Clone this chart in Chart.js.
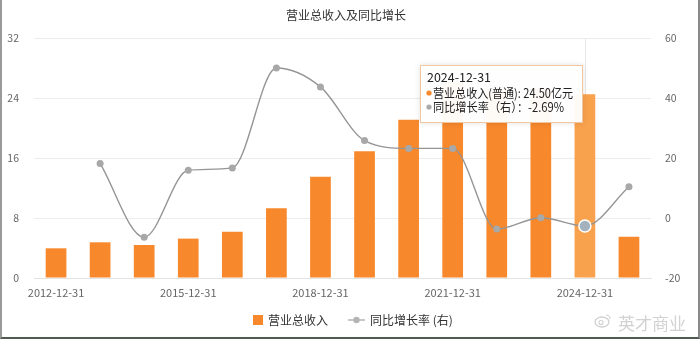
<!DOCTYPE html>
<html>
<head>
<meta charset="utf-8">
<script src="https://cdn.jsdelivr.net/npm/chart.js@4.4.1/dist/chart.umd.min.js"></script>
<style>
  html, body { margin: 0; padding: 0; background: #fff; }
  #wrap { position: relative; width: 700px; height: 339px; }
  #frame { position: absolute; left: 0; top: 0; right: 0; bottom: 0; box-sizing: border-box;
           border-left: 2px solid #9a9a9a; border-right: 2px solid #8a8a8a; border-bottom: 2px solid #4f5a50; pointer-events: none; }
  #wm { position: absolute; left: 618px; top: 310px; font: 17px "Noto Sans CJK SC"; color: #d2d2d2; letter-spacing: 0px; }
  #wmlogo { position: absolute; left: 594px; top: 313px; width: 18px; height: 15px; }
</style>
</head>
<body>
<div id="wrap">
  <canvas id="c" width="700" height="339"></canvas>
  <svg id="wmlogo" viewBox="0 0 18 15"><ellipse cx="8" cy="9" rx="7" ry="5" fill="none" stroke="#d0d0d0" stroke-width="1.3"/><circle cx="7" cy="9.5" r="2" fill="none" stroke="#d0d0d0" stroke-width="1.1"/><path d="M12 2 a4 4 0 0 1 4 4" fill="none" stroke="#d0d0d0" stroke-width="1.2"/></svg>
  <div id="wm">英才商业</div>
  <div id="frame"></div>
</div>
<script>
const categories = ['2012-12-31','2013-12-31','2014-12-31','2015-12-31','2016-12-31','2017-12-31','2018-12-31',
                    '2019-12-31','2020-12-31','2021-12-31','2022-12-31','2023-12-31','2024-12-31','2025-03-31'];
const revenue = [3.96, 4.76, 4.40, 5.25, 6.18, 9.29, 13.50, 16.90, 21.10, 26.10, 25.15, 25.18, 24.50, 5.50];
const growth  = [null, 18.2, -6.4, 15.9, 16.7, 50.0, 43.7, 25.8, 23.2, 23.2, -3.7, 0.1, -2.69, 10.4];
const leftTicks  = [0, 8, 16, 24, 32];
const rightTicks = [-20, 0, 20, 40, 60];
const titleText = '营业总收入及同比增长';
const seriesNames = ['营业总收入', '同比增长率 (右)'];
const hoverIndex = 12;

const FONT = '"Noto Sans CJK SC", "Noto Sans", sans-serif';
const BAR = '#f7882c', BAR_HOVER = '#f9a24d', LINE = '#959595', PT = '#a8a8a8';

const barColors = revenue.map((v, i) => i === hoverIndex ? BAR_HOVER : BAR);
const ptRadius = growth.map((v, i) => i === hoverIndex ? 6 : 3.5);
const ptFill = growth.map((v, i) => i === hoverIndex ? '#a3b2bc' : PT);
const ptBorder = growth.map((v, i) => i === hoverIndex ? '#ffffff' : PT);
const ptBorderW = growth.map((v, i) => i === hoverIndex ? 1.5 : 0);

const decor = {
  id: 'decor',
  beforeDatasetsDraw(chart) {
    const ctx = chart.ctx, ca = chart.chartArea;
    const bar = chart.getDatasetMeta(0).data[hoverIndex];
    ctx.save();
    ctx.strokeStyle = '#e8e8e8';
    ctx.lineWidth = 1;
    ctx.beginPath();
    ctx.moveTo(Math.round(bar.x) + 0.5, ca.top);
    ctx.lineTo(Math.round(bar.x) + 0.5, ca.bottom);
    ctx.stroke();
    ctx.restore();
  },
  afterDraw(chart) {
    const ctx = chart.ctx, ca = chart.chartArea;
    ctx.save();
    // title
    ctx.fillStyle = '#333';
    ctx.font = '12px ' + FONT;
    ctx.textAlign = 'center';
    ctx.textBaseline = 'middle';
    ctx.fillText(titleText, chart.width / 2 - 4, 15);

    // legend
    ctx.font = '12px ' + FONT;
    ctx.textAlign = 'left';
    const cy = 320;
    let x = 253;
    ctx.fillStyle = BAR;
    ctx.fillRect(x, cy - 5, 10, 10);
    ctx.fillStyle = '#333';
    ctx.fillText(seriesNames[0], x + 15, cy);
    x = x + 15 + ctx.measureText(seriesNames[0]).width + 20;
    ctx.strokeStyle = '#b5b5b5';
    ctx.lineWidth = 1.5;
    ctx.beginPath(); ctx.moveTo(x, cy); ctx.lineTo(x + 17, cy); ctx.stroke();
    ctx.fillStyle = '#b5b5b5';
    ctx.beginPath(); ctx.arc(x + 8.5, cy, 3.2, 0, Math.PI * 2); ctx.fill();
    ctx.fillStyle = '#333';
    ctx.fillText(seriesNames[1], x + 22, cy);

    // tooltip
    const bar = chart.getDatasetMeta(0).data[hoverIndex];
    const bw = 163, bh = 58;
    const bx = Math.round(bar.x) - 2 - bw, by = ca.top + 27;
    ctx.shadowColor = 'rgba(0,0,0,0.12)';
    ctx.shadowBlur = 6;
    ctx.fillStyle = 'rgba(255,255,255,0.96)';
    ctx.fillRect(bx, by, bw, bh);
    ctx.shadowBlur = 0;
    ctx.strokeStyle = '#f2c7a0';
    ctx.lineWidth = 1;
    ctx.strokeRect(bx + 0.5, by + 0.5, bw - 1, bh - 1);
    ctx.fillStyle = '#222';
    ctx.font = '12.5px ' + FONT;
    ctx.textBaseline = 'middle';
    ctx.fillText(categories[hoverIndex], bx + 7, by + 12, 64);
    ctx.font = '12.5px ' + FONT;
    ctx.fillStyle = BAR;
    ctx.beginPath(); ctx.arc(bx + 9, by + 28, 2.6, 0, Math.PI * 2); ctx.fill();
    ctx.fillStyle = '#222';
    ctx.fillText('营业总收入(普通): ' + revenue[hoverIndex].toFixed(2) + '亿元', bx + 13, by + 28, 140);
    ctx.fillStyle = '#aaa';
    ctx.beginPath(); ctx.arc(bx + 9, by + 42, 2.6, 0, Math.PI * 2); ctx.fill();
    ctx.fillStyle = '#222';
    ctx.fillText('同比增长率（右）：' + growth[hoverIndex].toFixed(2) + '%', bx + 13, by + 42, 131);
    ctx.restore();
  }
};

new Chart(document.getElementById('c'), {
  data: {
    labels: categories,
    datasets: [
      {
        type: 'line', label: seriesNames[1], data: growth, yAxisID: 'y1',
        borderColor: LINE, borderWidth: 1.4, cubicInterpolationMode: 'monotone',
        pointRadius: ptRadius, pointBackgroundColor: ptFill, pointBorderColor: ptBorder,
        pointBorderWidth: ptBorderW, spanGaps: false, order: 0
      },
      {
        type: 'bar', label: seriesNames[0], data: revenue, yAxisID: 'y',
        backgroundColor: barColors, barPercentage: 0.47, categoryPercentage: 1.0, order: 1
      }
    ]
  },
  options: {
    responsive: false, animation: false, events: [],
    layout: { padding: { top: 38, bottom: 0, left: 0, right: 0 } },
    plugins: { legend: { display: false }, tooltip: { enabled: false }, title: { display: false } },
    scales: {
      x: {
        grid: { display: false, drawTicks: false },
        border: { display: true, color: '#e3e3e3' },
        ticks: {
          autoSkip: false, maxRotation: 0, padding: 8, color: '#666',
          font: { family: FONT, size: 11 },
          callback: (v, i) => (i % 3 === 0 ? categories[i] : '')
        },
        afterFit: s => { s.height = 61; }
      },
      y: {
        position: 'left', min: 0, max: 32,
        afterBuildTicks: s => { s.ticks = leftTicks.map(v => ({ value: v })); },
        grid: { color: '#ececec', drawTicks: false },
        border: { display: false },
        ticks: { padding: 15, color: '#666', font: { family: FONT, size: 10.5 } },
        afterFit: s => { s.width = 34; }
      },
      y1: {
        position: 'right', min: -20, max: 60,
        afterBuildTicks: s => { s.ticks = rightTicks.map(v => ({ value: v })); },
        grid: { display: false, drawTicks: false },
        border: { display: false },
        ticks: { padding: 14, color: '#666', font: { family: FONT, size: 10.5 } },
        afterFit: s => { s.width = 49; }
      }
    }
  },
  plugins: [decor]
});
</script>
</body>
</html>
